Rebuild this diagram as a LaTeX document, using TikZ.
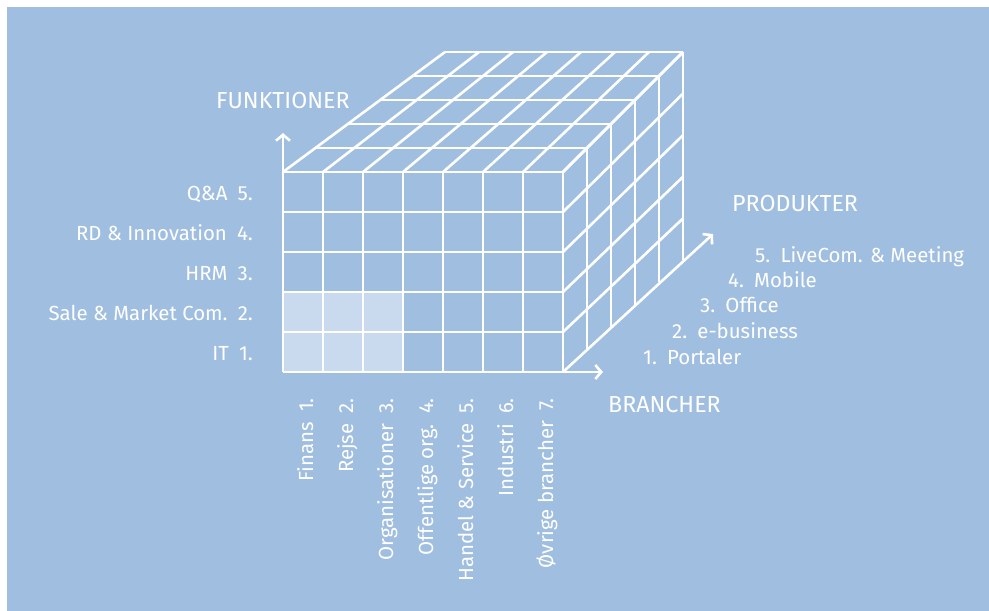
\documentclass[tikz,border=0pt]{standalone}
\usepackage{fontspec}
\setmainfont{Fira Sans}
\usetikzlibrary{arrows.meta}
\definecolor{bgblue}{HTML}{A0BEE0}
\definecolor{hiblue}{HTML}{C9D9EE}
\begin{document}
\begin{tikzpicture}[x=1pt,y=-1pt,
  gridline/.style={white, line width=2.6pt},
  axisline/.style={white, line width=2.6pt, -{Straight Barb[length=6pt,width=14pt]}},
  lab/.style={text=white, inner sep=0pt, font=\fontsize{20.4}{24}\selectfont},
  ttl/.style={text=white, inner sep=0pt, font=\fontsize{23.2}{27}\selectfont}]
\useasboundingbox (0,0) rectangle (989,611);
\fill[bgblue] (7,7) rectangle (989,611);
% highlighted cells
\fill[hiblue] (283,292) rectangle (403,372);
% top face: layers
\foreach \k in {0,...,5}{
  \draw[gridline] ({283+32.4*\k},{172-24*\k}) -- ({563+24*\k},{172-24*\k});
}
% top face: depth lines
\foreach \i in {0,...,7}{
  \draw[gridline] ({283+40*\i},172) -- ({445+34*\i},52);
}
% right face verticals
\foreach \k in {1,...,5}{
  \draw[gridline] ({563+24*\k},{172-24*\k}) -- ({563+24*\k},{372-22.4*\k});
}
% right face diagonals
\foreach \j in {0,...,4}{
  \draw[gridline] (563,{172+40*\j}) -- (683,{52+41.6*\j});
}
% front face grid
\foreach \i in {1,...,7}{
  \draw[gridline] ({283+40*\i},172) -- ({283+40*\i},372);
}
\foreach \j in {1,...,4}{
  \draw[gridline] (283,{172+40*\j}) -- (563,{172+40*\j});
}
% axes
\coordinate (O) at (283,372);
\coordinate (C) at (563,372);
\coordinate (ytip) at (283,133);
\coordinate (xtip) at (603,372);
\coordinate (ztip) at (713,234);
\draw[axisline] (O) -- (ytip);
\draw[axisline] (O) -- (xtip);
\draw[axisline] (C) -- (ztip);
% titles
\node[ttl, anchor=base west] (funk) at (216,108) {FUNKTIONER};
\node[ttl, anchor=base west] (prod) at (732,211) {PRODUKTER};
\node[ttl, anchor=base west] (bran) at (608,412) {BRANCHER};
% left labels
\node[lab, anchor=base east] (f5) at (253,200) {Q\&A\enspace 5.};
\node[lab, anchor=base east] (f4) at (253,240) {RD \& Innovation\enspace 4.};
\node[lab, anchor=base east] (f3) at (253,280) {HRM\enspace 3.};
\node[lab, anchor=base east] (f2) at (253,320) {Sale \& Market Com.\enspace 2.};
\node[lab, anchor=base east] (f1) at (253,360) {IT\enspace 1.};
% product labels
\node[lab, anchor=base west] (p5) at (755,262) {5.\enspace LiveCom. \& Meeting};
\node[lab, anchor=base west] (p4) at (728,287) {4.\enspace Mobile};
\node[lab, anchor=base west] (p3) at (700,312) {3.\enspace Office};
\node[lab, anchor=base west] (p2) at (672,338) {2.\enspace e-business};
\node[lab, anchor=base west] (p1) at (643,364) {1.\enspace Portaler};
% branch labels
\foreach \n/\t [count=\c from 0] in {b1/Finans\enspace 1., b2/Rejse\enspace 2., b3/Organisationer\enspace 3., b4/Offentlige org.\enspace 4., b5/Handel \& Service\enspace 5., b6/Industri\enspace 6., b7/Øvrige brancher\enspace 7.}{
  \node[lab, rotate=90, anchor=base east] (\n) at ({313+40*\c},398) {\t};
}
\end{tikzpicture}
\end{document}
